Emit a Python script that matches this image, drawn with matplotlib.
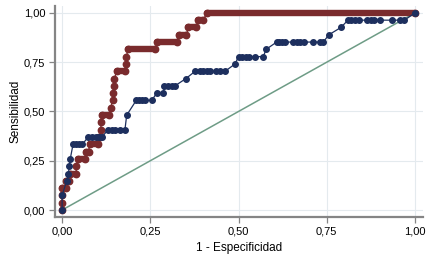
import matplotlib

matplotlib.use("Agg")
import matplotlib.pyplot as plt
import numpy as np

# ROC vertices (1 - specificity, sensitivity)
red_fpr = [0, 0, 0, 0, 0.012, 0.012, 0.02, 0.022, 0.04, 0.04, 0.045, 0.065,
           0.068, 0.075, 0.078, 0.103, 0.105, 0.108, 0.11, 0.11, 0.113, 0.133,
           0.138, 0.143, 0.145, 0.147, 0.148, 0.155, 0.178, 0.18, 0.182, 0.187,
           0.263, 0.27, 0.326, 0.33, 0.352, 0.358, 0.38, 0.385, 0.40, 0.41, 1.0]
red_tpr = [0, 0.037, 0.074, 0.111, 0.111, 0.148, 0.148, 0.185, 0.185, 0.222,
           0.259, 0.259, 0.296, 0.296, 0.333, 0.333, 0.370, 0.370, 0.407, 0.444,
           0.481, 0.481, 0.519, 0.556, 0.593, 0.630, 0.667, 0.704, 0.704, 0.741,
           0.778, 0.815, 0.815, 0.852, 0.852, 0.889, 0.889, 0.926, 0.926, 0.963,
           0.963, 1.0, 1.0]

blue_fpr = [0, 0, 0.013, 0.018, 0.02, 0.023, 0.031, 0.04, 0.048, 0.057,
            0.074, 0.085, 0.095, 0.105, 0.113, 0.13, 0.14, 0.15, 0.165, 0.178,
            0.183, 0.21, 0.217, 0.225, 0.235, 0.254, 0.268, 0.287, 0.29, 0.30,
            0.31, 0.32, 0.351, 0.377, 0.39, 0.40, 0.41, 0.42, 0.435, 0.448,
            0.462, 0.49, 0.50, 0.51, 0.52, 0.53, 0.547, 0.57, 0.578, 0.608,
            0.615, 0.623, 0.632, 0.655, 0.665, 0.675, 0.685, 0.711, 0.73, 0.74,
            0.756, 0.79, 0.81, 0.82, 0.83, 0.84, 0.865, 0.875, 0.885, 0.90,
            0.935, 0.957, 0.97, 1.0]
blue_tpr = [0, 0.074, 0.148, 0.185, 0.222, 0.259, 0.333, 0.333, 0.333, 0.333,
            0.370, 0.370, 0.370, 0.370, 0.370, 0.407, 0.407, 0.407, 0.407, 0.407,
            0.481, 0.556, 0.556, 0.556, 0.556, 0.556, 0.593, 0.593, 0.630, 0.630,
            0.630, 0.630, 0.667, 0.704, 0.704, 0.704, 0.704, 0.704, 0.704, 0.704,
            0.704, 0.741, 0.778, 0.778, 0.778, 0.778, 0.778, 0.778, 0.815, 0.852,
            0.852, 0.852, 0.852, 0.852, 0.852, 0.852, 0.852, 0.852, 0.852, 0.852,
            0.889, 0.926, 0.963, 0.963, 0.963, 0.963, 0.963, 0.963, 0.963, 0.963,
            0.963, 0.963, 0.963, 1.0]

ticks = [0, 0.25, 0.5, 0.75, 1.0]
tick_labels = ["0,00", "0,25", "0,50", "0,75", "1,00"]

RED = "#7a2b2d"
BLUE = "#1d2f5e"
GREEN = "#6e9c86"
SPINE = "#858585"

plt.rcParams["font.family"] = ["Liberation Sans", "DejaVu Sans"]

fig = plt.figure(figsize=(4.44, 2.60), dpi=100)
ax = fig.add_axes([0.124, 0.165, 0.829, 0.812])

ax.plot([0, 1], [0, 1], color=GREEN, lw=1.1, zorder=2)

# red: plateaus look like solid bars because the markers overlap
rf = np.array(red_fpr)
rt = np.array(red_tpr)
ax.plot(rf, rt, color=RED, lw=1.0, marker="o", ms=4.6, mec=RED, zorder=3)
for i in range(len(rf) - 1):
    if rt[i] == rt[i + 1] and rf[i + 1] > rf[i]:
        ax.plot(rf[i:i + 2], rt[i:i + 2], color=RED, lw=4.6,
                solid_capstyle="round", zorder=3)

ax.plot(blue_fpr, blue_tpr, color=BLUE, lw=0.9, marker="o", ms=4.0,
        mec=BLUE, zorder=4)

ax.set_xlim(-0.02, 1.023)
ax.set_ylim(-0.036, 1.035)
ax.set_xticks(ticks)
ax.set_xticklabels(tick_labels)
ax.set_yticks(ticks)
ax.set_yticklabels(tick_labels)
ax.grid(True, color="#e4eaee", lw=0.8, zorder=0)
ax.set_axisbelow(True)

for s in ("top", "right"):
    ax.spines[s].set_visible(False)
for s in ("left", "bottom"):
    ax.spines[s].set_color(SPINE)
    ax.spines[s].set_linewidth(1.6)
ax.tick_params(colors=SPINE, labelcolor="black", labelsize=8, length=4,
               width=0.9, pad=3)

ax.set_xlabel("1 - Especificidad", fontsize=8.5, labelpad=4)
ax.set_ylabel("Sensibilidad", fontsize=8.5, labelpad=2)

fig.savefig("out.png", dpi=100)
